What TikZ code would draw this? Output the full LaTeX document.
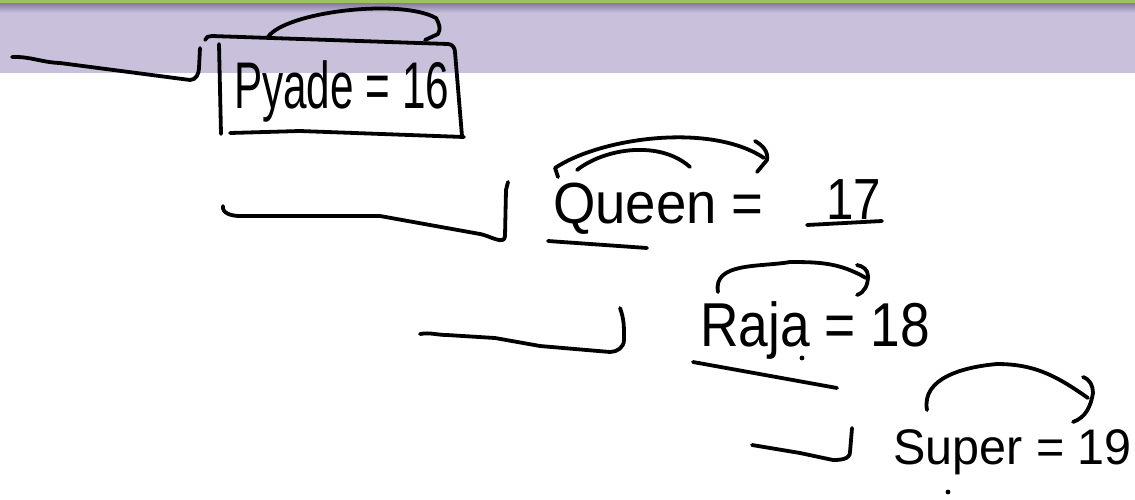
\documentclass[tikz,border=0pt]{standalone}
\usepackage{fontspec}
\usepackage{graphicx}
\setmainfont{Liberation Sans}
\definecolor{band}{HTML}{C9C1DC}
\definecolor{bandshadow}{HTML}{857A9C}
\definecolor{bandgreen}{HTML}{9CC45C}
\tikzset{
  ink/.style={line width=3.8pt, line cap=round, line join=round, black},
  hand/.style={inner sep=0pt, anchor=base west, text=black}
}
\begin{document}
\begin{tikzpicture}[x=1pt,y=-1pt]
\useasboundingbox (0,0) rectangle (1135,499);
\fill[white] (0,0) rectangle (1135,499);
% top band
\fill[band] (0,0) rectangle (1135,73);
\shade[top color=bandshadow, bottom color=band] (0,3) rectangle (1135,13);
\fill[bandgreen] (0,0) rectangle (1135,3);

% texts
\node[hand, font=\fontsize{66}{66}\selectfont] (pyade) at (234,108) {\scalebox{0.64}[1]{Pyade = 16}};
\node[hand, font=\fontsize{58}{58}\selectfont] (queen) at (553,223) {\scalebox{0.94}[1]{Queen =}};
\node[hand, font=\fontsize{58}{58}\selectfont] (qval) at (826,219) {\scalebox{0.85}[1]{17}};
\node[hand, font=\fontsize{62}{62}\selectfont] (raja) at (700,346) {\scalebox{0.86}[1]{Raja = 18}};
\node[hand, font=\fontsize{50}{50}\selectfont] (super) at (893,464) {\scalebox{0.97}[1]{Super = 19}};

% Pyade row
\coordinate (p0) at (12,57);
\coordinate (p1) at (200,48);
\draw[ink] (p0) to[out=2,in=178] (60,63) -- (190,80) to[out=0,in=-90] (199,68) -- (p1);
% box
\draw[ink] (205,40) to[out=80,in=180] (212,36) -- (448,44) to[out=0,in=90] (455,52) -- (462,136);
\draw[ink] (219,44) -- (221,134);
\draw[ink] (230,133) -- (300,131) -- (464,137);
% arc over box
\draw[ink] (268,37) .. controls (285,12) and (400,-2) .. (436,18)
  to[out=-60,in=60] (438,34) -- (425,40);

% Queen row
\coordinate (q0) at (223,206);
\coordinate (q1) at (508,182);
\draw[ink] (q0) to[out=-100,in=180] (240,216) -- (380,216) -- (480,234)
  to[out=-10,in=-90] (505,236) -- (506,190) -- (q1);
\draw[ink] (548,241) -- (647,248);
\draw[ink] (807,225) -- (882,221);
\draw[ink] (558,177) -- (555,168) .. controls (600,138) and (710,122) .. (764,158);
\draw[ink] (755,141) to[out=-30,in=80] (767,160) -- (757,172);
\draw[ink] (577,170) .. controls (605,148) and (660,140) .. (690,167);

% Raja row
\coordinate (r0) at (420,334);
\coordinate (r1) at (620,308);
\draw[ink] (r0) to[out=10,in=180] (447,335) -- (495,338) -- (540,346) -- (610,352)
  to[out=0,in=-90] (624,340) to[out=90,in=-70] (r1);
\draw[ink] (693,362) -- (837,388);
\draw[ink] (718,292) to[out=100,in=190] (790,262) to[out=0,in=150] (866,278);
\draw[ink] (857,265) to[out=-10,in=90] (868,276) to[out=-90,in=20] (857,295);
\fill (802,358) circle (2.4);

% Super row
\coordinate (s0) at (752,445);
\coordinate (s1) at (852,428);
\draw[ink] (s0) -- (800,453) -- (833,460) to[out=0,in=-90] (850,452) -- (s1);
\draw[ink] (927,410) to[out=100,in=185] (997,364) to[out=0,in=145] (1088,398);
\draw[ink] (1083,377) to[out=-20,in=90] (1093,393) to[out=-100,in=20] (1073,422);
\fill (948,492) circle (2.4);
\end{tikzpicture}
\end{document}
